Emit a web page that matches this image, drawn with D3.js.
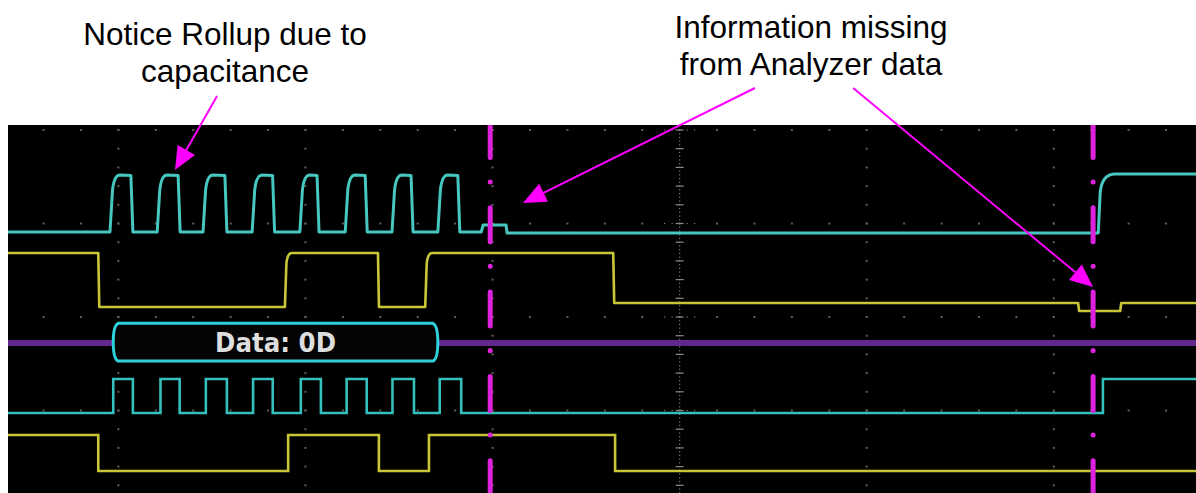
<!DOCTYPE html>
<html>
<head>
<meta charset="utf-8">
<script src="https://cdn.jsdelivr.net/npm/d3@7/dist/d3.min.js"></script>
<style>
  html, body { margin: 0; padding: 0; background: #ffffff; }
  svg { display: block; }
</style>
</head>
<body>
<svg id="chart" width="1196" height="493"></svg>
<script>
// ---------------- DATA (time in µs, levels in screen divisions) ----------------
const timeDomain = [-143.6, 110.4];          // visible time window (µs), 40 µs / div
const levelDomain = [-2, 2];                 // vertical divisions

// analog SCL (cyan, with capacitive roll-up)
const sclAnalogRise = [-121.8, -111.7, -101.9, -91.4, -81.2, -71.5, -61.5, -51.7];
const sclAnalogFall = [-116.9, -106.8, -96.8, -86.6, -77.1, -66.8, -57.0, -47.0];
const sclAnalogLevels = [0.909, 1.519];      // low, high
const sclAnalogStep = [[-42.0, 0.984], [-36.9, 0.898]];
const sclAnalogFinal = [89.5, 1.530];        // final rise time, level

// analog SDA (yellow)
const sdaAnalogEdges  = [-124.3, -84.4, -64.5, -54.4, -14.2, 85.2, 94.2];
const sdaAnalogLevels = [0.684, 0.107, 0.684, 0.107, 0.684, 0.150, 0.064, 0.150];

// decoded bus
const busLevel = -0.278;
const busPacket = [-121.1, -51.7];
const busBox = [-0.068, -0.471];
const busLabel = "Data: 0D";

// digital SCL (cyan)
const sclDigitalEdges = [-121.1, -116.9, -111.0, -106.9, -101.3, -96.8, -91.2, -87.0,
                         -81.0, -76.7, -71.2, -66.9, -61.4, -56.8, -51.3, -46.7, 90.5];
const sclDigitalLevels = [-1.027, -0.663];   // low, high ; starts low

// digital SDA (yellow)
const sdaDigitalEdges = [-124.3, -83.7, -64.3, -53.6, -13.8];
const sdaDigitalLevels = [-1.647, -1.262];   // low, high ; starts high

// cursors
const cursorTimes = [-40.5, 88.4];

// annotations: tail [t, v] -> tip [t, v]
const annoArrows = [
  {tail: [-98.9, 2.364], tip: [-107.9, 1.572]},
  {tail: [16.1, 2.449],  tip: [-33.5, 1.219]},
  {tail: [37.1, 2.449],  tip: [88.4, 0.321]}
];
const annoText1 = ["Notice Rollup due to", "capacitance"];
const annoText2 = ["Information missing", "from Analyzer data"];

// ---------------- DRAW ----------------
const svg = d3.select("#chart");
const W = 1196, H = 493;
const screen = {x0: 8, x1: 1196, y0: 125, y1: 493};

const x = d3.scaleLinear().domain(timeDomain).range([screen.x0, screen.x1]);
const y = d3.scaleLinear().domain(levelDomain).range([504, 130]);

svg.append("rect").attr("width", W).attr("height", H).attr("fill", "#ffffff");
svg.append("defs").append("clipPath").attr("id", "scr")
  .append("rect").attr("x", screen.x0).attr("y", screen.y0)
  .attr("width", screen.x1 - screen.x0).attr("height", screen.y1 - screen.y0);
svg.append("rect").attr("x", screen.x0).attr("y", screen.y0)
  .attr("width", screen.x1 - screen.x0).attr("height", screen.y1 - screen.y0)
  .attr("fill", "#000000");

const g = svg.append("g").attr("clip-path", "url(#scr)");

// ---- graticule ----
const grid = g.append("g");
const minorT = d3.range(-136, 112, 8);
const majorT = minorT.filter(t => t % 40 === 0);
const rowV = [2, 1, 0, -1];
const colV = d3.range(-2, 2.01, 0.2);
rowV.forEach(v => {
  grid.selectAll(null).data(minorT).enter().append("rect")
    .attr("x", d => x(d) - 1).attr("y", y(v) - 1).attr("width", 2).attr("height", 2)
    .attr("fill", "#5e5e5e");
});
majorT.filter(t => t !== 0).forEach(t => {
  grid.selectAll(null).data(colV).enter().append("rect")
    .attr("x", x(t) - 1).attr("y", d => y(d) - 1).attr("width", 2).attr("height", 2)
    .attr("fill", "#5e5e5e");
});
// centre column: dense dots + ticks
grid.selectAll(null).data(d3.range(-2, 2.01, 0.04)).enter().append("rect")
  .attr("x", x(0) - 0.6).attr("y", d => y(d) - 0.6).attr("width", 1.2).attr("height", 1.2)
  .attr("fill", "#7c7c7c");
grid.selectAll(null).data(colV).enter().append("line")
  .attr("x1", x(0) - 4).attr("x2", x(0) + 4)
  .attr("y1", d => y(d)).attr("y2", d => y(d))
  .attr("stroke", "#8a8a8a").attr("stroke-width", 1.2);
rowV.forEach(v => {
  grid.selectAll(null).data(d3.range(-3.2, 3.3, 1.6)).enter().append("rect")
    .attr("x", d => x(d) - 0.6).attr("y", y(v) - 0.6).attr("width", 1.2).attr("height", 1.2)
    .attr("fill", "#7c7c7c");
});

// ---- analog SCL ----
(function () {
  const yL = y(sclAnalogLevels[0]), yH = y(sclAnalogLevels[1]);
  const p = d3.path();
  p.moveTo(x(timeDomain[0]), yL);
  sclAnalogRise.forEach((r, i) => {
    const f = sclAnalogFall[i];
    const xr = x(r), xf = x(f);
    p.lineTo(xr, yL);
    p.lineTo(xr + 2.5, yL - (yL - yH) * 0.72);
    p.quadraticCurveTo(xr + 4, yH, xr + 10, yH);
    p.lineTo(xf - 2, yH + 0.5);
    p.lineTo(xf, yL);
  });
  const ys0 = y(sclAnalogStep[0][1]), ys1 = y(sclAnalogStep[1][1]);
  p.lineTo(x(sclAnalogStep[0][0]) - 2, yL);
  p.lineTo(x(sclAnalogStep[0][0]), ys0);
  p.lineTo(x(sclAnalogStep[1][0]) - 1, ys0);
  p.lineTo(x(sclAnalogStep[1][0]), ys1);
  const xF = x(sclAnalogFinal[0]), yF = y(sclAnalogFinal[1]);
  p.lineTo(xF, ys1);
  p.lineTo(xF + 2, ys1 - (ys1 - yF) * 0.7);
  p.quadraticCurveTo(xF + 4, yF, xF + 17, yF);
  p.lineTo(x(timeDomain[1]), yF);
  g.append("path").attr("d", p.toString())
    .attr("fill", "none").attr("stroke", "#46c8c0").attr("stroke-width", 3)
    .attr("stroke-linejoin", "round");
})();

// ---- analog SDA ----
(function () {
  const p = d3.path();
  let prev = sdaAnalogLevels[0];
  p.moveTo(x(timeDomain[0]), y(prev));
  sdaAnalogEdges.forEach((t, i) => {
    const next = sdaAnalogLevels[i + 1];
    const xt = x(t), y0 = y(prev), y1 = y(next);
    p.lineTo(xt, y0);
    if (next > prev + 0.3) {
      p.lineTo(xt + 1.5, y0 + (y1 - y0) * 0.8);
      p.quadraticCurveTo(xt + 2.5, y1, xt + 7, y1);
    } else {
      p.lineTo(xt + 1, y1);
    }
    prev = next;
  });
  p.lineTo(x(timeDomain[1]), y(prev));
  g.append("path").attr("d", p.toString())
    .attr("fill", "none").attr("stroke", "#c8c637").attr("stroke-width", 2.6)
    .attr("stroke-linejoin", "round");
})();

// ---- bus ----
const bx0 = x(busPacket[0]), bx1 = x(busPacket[1]);
g.append("line").attr("x1", x(timeDomain[0])).attr("x2", bx0)
  .attr("y1", y(busLevel)).attr("y2", y(busLevel))
  .attr("stroke", "#62288e").attr("stroke-width", 6);
g.append("line").attr("x1", bx1).attr("x2", x(timeDomain[1]))
  .attr("y1", y(busLevel)).attr("y2", y(busLevel))
  .attr("stroke", "#62288e").attr("stroke-width", 6);
(function () {
  const yT = y(busBox[0]), yB = y(busBox[1]), yM = (yT + yB) / 2;
  const p = d3.path();
  p.moveTo(bx0 + 5, yT);
  p.lineTo(bx1 - 5, yT);
  p.quadraticCurveTo(bx1, yT + 2, bx1, yM);
  p.quadraticCurveTo(bx1, yB - 2, bx1 - 5, yB);
  p.lineTo(bx0 + 5, yB);
  p.quadraticCurveTo(bx0, yB - 2, bx0, yM);
  p.quadraticCurveTo(bx0, yT + 2, bx0 + 5, yT);
  p.closePath();
  g.append("path").attr("d", p.toString())
    .attr("fill", "#040404").attr("stroke", "#2fd2da").attr("stroke-width", 3);
  g.append("text").attr("x", (bx0 + bx1) / 2).attr("y", yM + 9.5)
    .attr("text-anchor", "middle")
    .attr("font-family", "'DejaVu Sans', sans-serif").attr("font-weight", "bold")
    .attr("font-size", 26).attr("fill", "#dedede")
    .attr("textLength", 121).attr("lengthAdjust", "spacingAndGlyphs")
    .text(busLabel);
})();

// ---- digital traces ----
function digitalPoints(edges, levels, startHigh) {
  let lvl = startHigh ? 1 : 0;
  const pts = [[timeDomain[0], levels[lvl]]];
  edges.forEach(t => { lvl = 1 - lvl; pts.push([t, levels[lvl]]); });
  pts.push([timeDomain[1], levels[lvl]]);
  return pts;
}
const stepLine = d3.line().x(d => x(d[0])).y(d => y(d[1])).curve(d3.curveStepAfter);
g.append("path").attr("d", stepLine(digitalPoints(sclDigitalEdges, sclDigitalLevels, false)))
  .attr("fill", "none").attr("stroke", "#34c0bc").attr("stroke-width", 2.6);
g.append("path").attr("d", stepLine(digitalPoints(sdaDigitalEdges, sdaDigitalLevels, true)))
  .attr("fill", "none").attr("stroke", "#c8c637").attr("stroke-width", 2.6);

// ---- cursors ----
cursorTimes.forEach(t => {
  g.append("line").attr("x1", x(t)).attr("x2", x(t))
    .attr("y1", screen.y0).attr("y2", screen.y1 + 10)
    .attr("stroke", "#dc22dc").attr("stroke-width", 5)
    .attr("stroke-linecap", "round")
    .attr("stroke-dasharray", "34 24.5 0.01 25.8")
    .attr("stroke-dashoffset", 1.5);
});

// ---- annotations ----
const ann = svg.append("g");
annoArrows.forEach(a => {
  const tx = x(a.tail[0]), ty = y(a.tail[1]);
  const px = x(a.tip[0]), py = y(a.tip[1]);
  const dx = px - tx, dy = py - ty, len = Math.hypot(dx, dy);
  const ux = dx / len, uy = dy / len;
  const hl = 23, hw = 10;
  const bxp = px - ux * hl, byp = py - uy * hl;
  ann.append("line").attr("x1", tx).attr("y1", ty).attr("x2", bxp).attr("y2", byp)
    .attr("stroke", "#ff00ff").attr("stroke-width", 2);
  ann.append("path")
    .attr("d", `M${px},${py}L${bxp - uy * hw},${byp + ux * hw}L${bxp + uy * hw},${byp - ux * hw}Z`)
    .attr("fill", "#ff00ff");
});
function block(lines, cx, baseY, gap) {
  lines.forEach((s, i) => {
    ann.append("text").attr("x", cx).attr("y", baseY + i * gap)
      .attr("text-anchor", "middle")
      .attr("font-family", "'Liberation Sans', Arial, sans-serif")
      .attr("font-size", 31.5).attr("fill", "#000000").text(s);
  });
}
block(annoText1, 225, 45, 36.5);
block(annoText2, 811, 38, 36.5);
</script>
</body>
</html>
